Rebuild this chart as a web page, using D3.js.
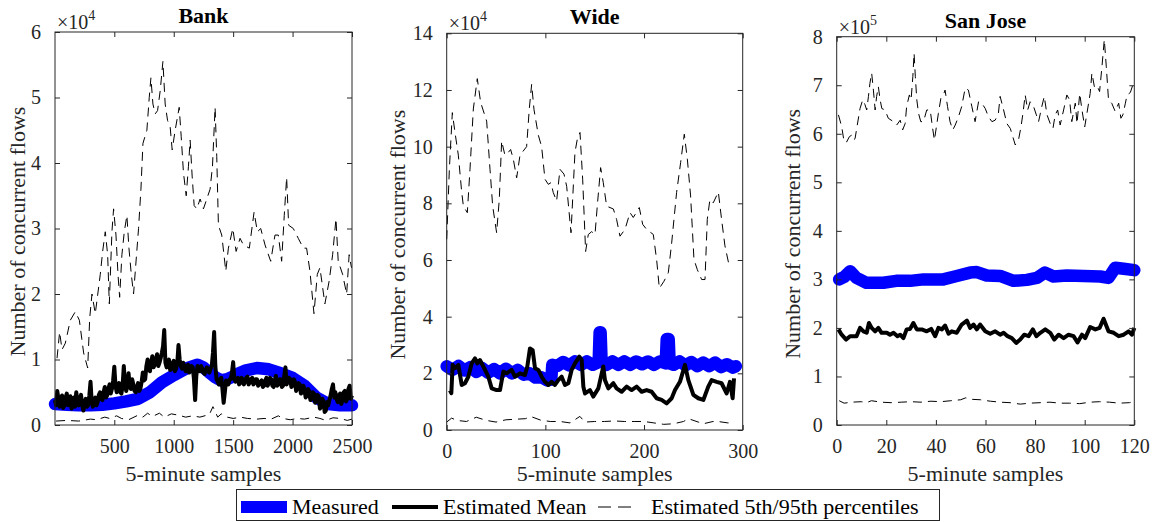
<!DOCTYPE html>
<html><head><meta charset="utf-8">
<script src="https://cdn.jsdelivr.net/npm/d3@7"></script>
<style>body{margin:0;background:#fff}svg{display:block}</style>
</head><body><svg id="c" width="1162" height="522" font-family="Liberation Serif, Times New Roman, serif"></svg>
<script>
// ---------------- DATA ----------------
const panelTitles = ["Bank", "Wide", "San Jose"];
const yAxisLabel = "Number of concurrent flows";
const xAxisLabel = "5-minute samples";
const legendLabels = ["Measured", "Estimated Mean", "Estimated 5th/95th percentiles"];
const exponents = [4, 4, 5];

const bankXTicks = [500, 1000, 1500, 2000, 2500];
const bankYTicks = [0, 1, 2, 3, 4, 5, 6];
const wideXTicks = [0, 100, 200, 300];
const wideYTicks = [0, 2, 4, 6, 8, 10, 12, 14];
const sjXTicks = [0, 20, 40, 60, 80, 100, 120];
const sjYTicks = [0, 1, 2, 3, 4, 5, 6, 7, 8];

// Bank (values in units of 1e4)
const bankMeasured = [[1,0.32],[100,0.31],[200,0.3],[300,0.3],[400,0.31],[500,0.33],[600,0.36],[700,0.4],[800,0.5],[900,0.65],[1000,0.76],[1100,0.86],[1200,0.92],[1250,0.88],[1300,0.8],[1350,0.73],[1400,0.68],[1450,0.7],[1500,0.74],[1550,0.79],[1600,0.83],[1700,0.87],[1800,0.85],[1900,0.79],[2000,0.72],[2100,0.6],[2200,0.42],[2300,0.32],[2400,0.3],[2500,0.3]];
const bankMeanStep = 10;
const bankMean = [
  0.38,0.3,0.52,0.4,0.28,0.36,0.45,0.26,0.3,0.42,0.48,0.3,0.35,0.44,0.25,0.32,0.42,0.28,0.5,0.36,
  0.3,0.4,0.46,0.3,0.22,0.34,0.4,0.28,0.3,0.45,0.66,0.35,0.28,0.38,0.42,0.3,0.35,0.46,0.5,0.4,
  0.38,0.5,0.58,0.42,0.45,0.55,0.62,0.48,0.55,0.68,0.89,0.6,0.5,0.58,0.64,0.5,0.48,0.6,0.9,0.62,
  0.52,0.6,0.79,0.58,0.55,0.7,0.62,0.52,0.5,0.58,0.64,0.52,0.56,0.66,0.8,0.68,0.7,0.9,1.0,0.86,
  0.82,0.95,1.05,0.88,0.92,1.0,1.08,0.9,0.95,1.02,1.1,1.2,1.45,0.95,0.88,0.96,1.0,0.84,0.85,0.94,
  0.98,0.82,0.86,0.95,1.22,1.0,0.9,0.86,0.95,0.88,0.82,0.9,0.92,0.8,0.85,0.9,0.88,0.7,0.38,0.75,
  0.9,0.86,0.82,0.9,0.86,0.8,0.78,0.85,0.88,0.82,0.8,0.86,0.9,1.1,1.42,0.9,0.7,0.66,0.62,0.7,
  0.72,0.55,0.34,0.5,0.68,0.62,0.62,0.7,0.7,0.8,0.96,0.7,0.66,0.7,0.72,0.62,0.64,0.72,0.7,0.62,
  0.66,0.72,0.74,0.62,0.65,0.7,0.72,0.62,0.64,0.7,0.7,0.6,0.62,0.66,0.68,0.58,0.6,0.68,0.72,0.6,
  0.64,0.72,0.7,0.6,0.58,0.68,0.75,0.6,0.62,0.7,0.7,0.58,0.6,0.75,0.88,0.62,0.66,0.72,0.7,0.58,
  0.6,0.7,0.66,0.52,0.56,0.64,0.62,0.48,0.5,0.6,0.55,0.42,0.45,0.55,0.52,0.38,0.4,0.5,0.48,0.34,
  0.36,0.46,0.44,0.25,0.28,0.4,0.36,0.2,0.22,0.35,0.3,0.38,0.45,0.55,0.62,0.42,0.5,0.4,0.35,0.45,
  0.48,0.32,0.38,0.5,0.52,0.36,0.4,0.55,0.6,0.4,0.45];
const bankP95 = [[18,1.02],[40,1.42],[60,1.15],[88,1.25],[130,1.6],[172,1.73],[206,1.6],[242,1.1],[276,0.87],[293,1.63],[312,2.0],[340,1.7],[382,2.3],[402,2.65],[424,2.95],[444,2.6],[458,1.85],[480,2.95],[494,3.3],[514,2.9],[531,2.3],[545,1.95],[564,2.6],[584,2.95],[606,3.2],[623,2.7],[643,2.3],[662,2.0],[685,2.55],[704,3.0],[724,3.6],[741,4.3],[774,4.5],[794,5.0],[808,5.3],[825,4.9],[844,4.75],[864,4.8],[886,5.1],[909,5.55],[928,4.9],[948,4.65],[970,4.55],[987,4.2],[1012,4.5],[1046,4.85],[1063,4.4],[1082,3.85],[1105,3.5],[1124,3.95],[1138,4.35],[1155,3.8],[1172,3.35],[1194,3.3],[1222,3.45],[1250,3.3],[1278,3.45],[1306,3.6],[1326,3.95],[1348,4.85],[1362,4.1],[1376,3.05],[1404,2.9],[1438,2.35],[1460,2.7],[1497,3.0],[1525,2.65],[1558,2.85],[1586,2.75],[1636,2.7],[1676,3.25],[1704,2.95],[1732,3.0],[1768,2.75],[1816,2.5],[1852,2.9],[1880,2.9],[1908,2.5],[1930,3.2],[1950,3.78],[1967,3.05],[2006,3.0],[2048,2.85],[2090,2.7],[2118,2.7],[2146,2.35],[2180,1.7],[2208,2.3],[2230,2.4],[2272,1.85],[2308,2.2],[2337,2.6],[2365,3.15],[2384,2.5],[2421,2.3],[2455,2.0],[2476,2.6],[2496,2.4]];
const bankP5 = [[10,0.06],[100,0.07],[200,0.06],[300,0.09],[350,0.08],[420,0.12],[460,0.1],[520,0.14],[560,0.1],[620,0.08],[700,0.15],[740,0.12],[780,0.18],[820,0.13],[880,0.18],[920,0.12],[980,0.17],[1040,0.15],[1100,0.12],[1160,0.14],[1220,0.12],[1300,0.16],[1330,0.28],[1370,0.12],[1400,0.17],[1450,0.12],[1500,0.1],[1560,0.12],[1620,0.1],[1700,0.09],[1760,0.1],[1820,0.09],[1880,0.14],[1920,0.1],[1980,0.08],[2040,0.1],[2100,0.09],[2180,0.12],[2230,0.1],[2280,0.07],[2340,0.11],[2400,0.1],[2460,0.07],[2500,0.09]];

// Wide (values in units of 1e4)
const wideMeasured = [[0,2.25],[6,2.12],[12,2.26],[18,2.1],[24,2.22],[30,2.05],[36,2.18],[42,2.02],[48,2.15],[54,2.0],[60,2.16],[66,2.0],[72,2.12],[78,1.95],[84,2.0],[90,1.85],[96,1.86],[102,1.75],[106,1.78],[107,2.3],[112,2.26],[118,2.4],[124,2.28],[130,2.42],[136,2.3],[142,2.42],[148,2.3],[154,2.4],[155,3.45],[156,3.45],[157,2.42],[162,2.3],[168,2.42],[174,2.3],[180,2.42],[186,2.3],[192,2.42],[198,2.32],[204,2.42],[210,2.3],[216,2.42],[222,2.35],[223,3.21],[225,3.21],[226,2.35],[230,2.3],[236,2.42],[242,2.28],[248,2.4],[254,2.25],[260,2.38],[266,2.25],[272,2.38],[278,2.22],[284,2.32],[290,2.2],[293,2.25]];
const wideMean = [[3.3,1.4],[4.7,1.3],[6,2.3],[8.4,2.18],[11.8,2.3],[15.2,1.59],[18.5,1.65],[21.9,1.88],[25.3,2.35],[28.7,2.53],[31,2.35],[33.7,2.47],[37.1,2.24],[42.2,1.88],[45.6,1.47],[50.6,1.41],[54,1.41],[57.4,2.06],[60.8,2.0],[65.8,2.12],[69.2,1.88],[74.3,2.0],[79.3,1.94],[81.7,2.24],[84.4,2.88],[87.1,2.82],[89.5,2.18],[92.9,2.12],[96.2,1.88],[99.6,1.7],[103,1.59],[106.4,1.7],[109.7,1.59],[113.1,1.76],[116.5,1.88],[119.9,1.59],[123.3,1.65],[126.6,2.12],[130,2.35],[134.4,2.59],[136.8,2.47],[138.5,1.53],[140.2,1.29],[145.2,1.41],[148.6,1.18],[153.7,1.47],[158.7,2.24],[160.4,1.76],[163.8,1.47],[168.9,1.65],[172.2,1.47],[177.3,1.35],[182.4,1.53],[187.4,1.41],[192.5,1.53],[197.6,1.35],[202.6,1.41],[207.7,1.35],[212.8,1.12],[217.8,1.06],[222.9,0.94],[228,1.12],[231.4,1.41],[236.4,1.7],[241.5,2.3],[244.9,1.76],[250,1.24],[255,1.12],[260.1,1.06],[265.1,1.53],[268.5,1.76],[273.6,1.7],[278.6,1.65],[283.7,1.29],[287.1,1.7],[289.8,1.12],[291.2,1.82]];
const wideP95 = [[0,6.73],[2.7,9.2],[5.7,11.2],[8.4,10.5],[11.8,9.7],[15.2,8.4],[16.9,7.9],[20.9,7.67],[23.6,9.2],[27,11.33],[31,12.4],[34.4,11.56],[40.5,10.9],[43.9,9.2],[46.6,7.9],[50.6,6.96],[53.3,8.14],[55.7,10.2],[59,9.7],[62.5,9.8],[64.8,9.9],[67.5,9.56],[70.9,8.9],[74.3,9.7],[81,10.0],[83.7,11.33],[86.1,12.2],[88.5,11.3],[92.9,10.4],[96.2,10.0],[99.6,8.85],[103,8.67],[105.7,8.73],[108,8.38],[111.4,8.08],[114.8,9.2],[118.9,9.03],[121.6,8.6],[126,6.96],[130,9.8],[132.4,10.27],[135.1,10.5],[137.8,8.85],[140.8,6.3],[143.5,6.9],[146.9,7.0],[150.3,6.9],[152.6,7.9],[156,9.26],[158.7,8.73],[162.1,7.9],[168.9,7.8],[172.2,7.43],[175.6,6.84],[180.7,7.08],[185.8,7.67],[189.1,7.5],[195.2,7.85],[198.6,7.26],[202.6,7.08],[209.4,6.9],[212.8,6.0],[215.5,5.0],[220.2,5.25],[224.6,5.55],[228,6.6],[233,8.38],[237.1,9.44],[240.8,10.44],[243.9,9.56],[247.2,8.26],[250.6,6.02],[254,5.66],[258.4,5.31],[261.8,5.31],[264.1,7.43],[266.8,8.14],[270.2,8.02],[275.3,8.4],[278.6,7.43],[282,6.5],[286.4,5.78]];
const wideP5 = [[0,0.28],[5,0.42],[10,0.34],[20,0.3],[30,0.45],[40,0.34],[50,0.28],[60,0.36],[70,0.38],[80,0.4],[85,0.48],[95,0.35],[105,0.3],[115,0.3],[125,0.25],[135,0.48],[140,0.28],[150,0.3],[160,0.3],[170,0.32],[180,0.3],[190,0.3],[200,0.3],[210,0.25],[220,0.2],[230,0.22],[240,0.3],[245,0.4],[255,0.28],[260,0.22],[270,0.3],[275,0.3],[285,0.25],[290,0.25]];

// San Jose (values in units of 1e5)
const sjMeasured = [[1,3.0],[3,3.05],[5.4,3.17],[8,3.03],[12,2.93],[18.8,2.93],[24,2.97],[29.6,2.97],[35,3.0],[43,3.0],[48.4,3.07],[53.8,3.14],[56.5,3.15],[60.5,3.08],[65.9,3.07],[71.3,2.97],[76.7,2.99],[80.7,3.03],[84,3.14],[87.4,3.06],[92.8,3.08],[99.6,3.07],[106.3,3.06],[109.6,3.03],[112.3,3.24],[115.7,3.22],[120,3.19]];
const sjMean = [[0.7,1.97],[2,1.86],[3.8,1.76],[5.4,1.83],[8,1.83],[9.4,2.0],[10.8,1.93],[12.1,1.9],[13,2.1],[14.1,2.0],[15.5,1.93],[16.8,2.0],[18.1,1.9],[20.2,1.9],[21.5,1.86],[22.9,1.9],[24.5,1.83],[25.6,1.86],[26.9,1.79],[28.2,1.97],[29.6,1.98],[30.9,2.1],[32.3,1.97],[34.3,1.97],[36.3,1.93],[38.1,1.98],[39.7,1.83],[41,2.0],[42.4,1.97],[43.7,2.05],[45.1,1.88],[46.4,1.93],[48.4,1.9],[50.4,2.07],[52.5,2.15],[53.8,2.0],[55.2,2.07],[56.5,1.97],[57.8,2.07],[59.9,1.93],[61.9,1.88],[63.9,1.93],[65.9,1.86],[67.3,1.9],[68.9,1.83],[70.6,1.79],[72.4,1.69],[74,1.76],[75.6,1.86],[77.4,1.83],[79.1,1.97],[80.5,1.83],[82.1,1.9],[84.1,1.97],[86.1,1.9],[87.7,1.76],[89.5,1.86],[91.5,1.79],[93.5,1.86],[95.5,1.83],[97.1,1.7],[98.9,1.86],[100.2,1.79],[102.2,2.02],[104.3,1.97],[106,2.0],[107.6,2.19],[109.6,1.93],[111.7,1.9],[113.7,1.83],[115.7,1.86],[117.7,1.93],[119.1,1.86],[120,2.0]];
const sjP95 = [[0.7,6.39],[2,6.15],[3,5.83],[4,5.83],[5.1,5.94],[6,5.97],[6.7,5.87],[7.4,5.9],[8.3,6.18],[9.4,6.52],[10.5,6.7],[11.4,6.6],[12.1,6.49],[12.8,6.77],[13.4,7.04],[14.1,7.25],[14.8,6.9],[15.5,6.49],[16.1,6.77],[16.8,6.97],[17.5,6.7],[18.2,6.52],[19.5,6.49],[20.8,6.32],[22.9,6.25],[24.2,6.18],[25.6,6.28],[26.6,6.08],[27.6,6.21],[28.2,6.56],[29.3,6.8],[30,6.7],[30.7,7.18],[31.2,7.66],[31.7,7.18],[32.3,6.7],[33,6.42],[33.9,6.25],[35,6.25],[36.3,6.49],[37.7,6.49],[38.6,6.14],[39.4,5.87],[40.4,6.21],[41,6.42],[42,6.73],[42.8,6.77],[43.7,6.9],[44.7,6.56],[45.7,6.25],[46.8,6.08],[47.8,6.18],[49.1,6.35],[50.4,6.56],[51.8,6.94],[53.1,6.9],[54.5,6.56],[55.8,6.25],[57.2,6.66],[58.5,6.63],[59.9,6.52],[61.2,6.35],[62.6,6.25],[63.9,6.28],[65.2,6.42],[65.9,6.77],[67.3,6.49],[68.6,6.21],[70,6.11],[71,5.94],[72,5.77],[73.3,5.87],[74.3,6.14],[75.1,6.42],[76,6.8],[77,6.49],[78,6.66],[79.4,6.56],[80.5,6.39],[81.4,6.25],[82.7,6.56],[83.7,6.77],[84.8,6.39],[86.1,6.21],[87.2,6.11],[88.1,6.39],[89.1,6.49],[90.1,6.18],[91.5,6.49],[92.8,6.8],[93.9,6.7],[94.8,6.25],[96.2,6.63],[96.9,6.21],[98,6.83],[98.9,6.49],[100,6.14],[100.9,6.42],[102.2,6.83],[102.9,7.25],[103.9,6.97],[104.9,7.0],[106,6.87],[106.9,7.35],[107.9,7.94],[108.7,7.39],[109.6,6.7],[110.9,6.63],[112.3,6.46],[113.7,6.63],[114.6,6.32],[115.4,6.39],[116.4,6.63],[117.1,6.8],[118.4,6.85],[120,7.1]];
const sjP5 = [[1,0.5],[3,0.45],[6,0.47],[10,0.48],[12,0.46],[14,0.5],[18,0.47],[22,0.46],[26,0.47],[30,0.48],[34,0.47],[38,0.49],[42,0.48],[46,0.5],[50,0.52],[52,0.56],[54,0.53],[58,0.52],[62,0.49],[66,0.47],[70,0.46],[74,0.43],[78,0.45],[82,0.46],[86,0.47],[90,0.45],[94,0.45],[98,0.44],[102,0.47],[106,0.48],[110,0.47],[114,0.45],[118,0.46],[120,0.48]];

// ---------------- DRAW ----------------
const BLUE = "#0000ff", AX = "#262626";
const FONT = "Liberation Serif, Times New Roman, serif";
const svg = d3.select("#c");
const txt = (sel, size, color) => sel.attr("font-family", FONT).attr("font-size", size).attr("fill", color || AX);

const bankMeanPts = bankMean.map((v, i) => [Math.max(1, i * bankMeanStep), v]);

const panels = [
  {title: panelTitles[0], exp: exponents[0], xDom: [1, 2500], yDom: [0, 6], xt: bankXTicks, yt: bankYTicks,
   box: {l: 55, r: 352, t: 32, b: 425}, meas: bankMeasured, mean: bankMeanPts, p95: bankP95, p5: bankP5, ylx: 25},
  {title: panelTitles[1], exp: exponents[1], xDom: [0, 300], yDom: [0, 14], xt: wideXTicks, yt: wideYTicks,
   box: {l: 446.7, r: 742.7, t: 33.3, b: 430}, meas: wideMeasured, mean: wideMean, p95: wideP95, p5: wideP5, ylx: 405},
  {title: panelTitles[2], exp: exponents[2], xDom: [0, 120], yDom: [0, 8], xt: sjXTicks, yt: sjYTicks,
   box: {l: 836.7, r: 1134.3, t: 36.7, b: 425}, meas: sjMeasured, mean: sjMean, p95: sjP95, p5: sjP5, ylx: 800}
];

panels.forEach(p => {
  const b = p.box;
  const x = d3.scaleLinear().domain(p.xDom).range([b.l, b.r]);
  const y = d3.scaleLinear().domain(p.yDom).range([b.b, b.t]);
  const g = svg.append("g");
  const line = d3.line().x(d => x(d[0])).y(d => y(d[1]));

  g.append("path").attr("d", line(p.meas)).attr("fill", "none").attr("stroke", BLUE)
    .attr("stroke-width", 12.5).attr("stroke-linecap", "round").attr("stroke-linejoin", "round");
  g.append("path").attr("d", line(p.mean)).attr("fill", "none").attr("stroke", "#000")
    .attr("stroke-width", 4).attr("stroke-linejoin", "round");
  [p.p95, p.p5].forEach(s => {
    g.append("path").attr("d", line(s)).attr("fill", "none").attr("stroke", "#000")
      .attr("stroke-width", 1).attr("stroke-dasharray", "9,6");
  });

  const tl = 5, fmt = d3.format("d");
  const axB = d3.axisBottom(x).tickValues(p.xt).tickSize(-tl).tickPadding(14).tickFormat(fmt);
  const axT = d3.axisTop(x).tickValues(p.xt).tickSize(-tl).tickFormat("");
  const axL = d3.axisLeft(y).tickValues(p.yt).tickSize(-tl).tickPadding(14).tickFormat(fmt);
  const axR = d3.axisRight(y).tickValues(p.yt).tickSize(-tl).tickFormat("");
  const style = sel => {
    sel.attr("font-family", null).attr("font-size", null);
    sel.selectAll("path,line").attr("stroke", AX).attr("stroke-width", 1);
    sel.select(".domain").remove();
    sel.selectAll("text").call(t => txt(t, 20));
  };
  const gb = g.append("g").attr("transform", `translate(0,${b.b})`).call(axB).call(style);
  gb.selectAll("text").attr("dy", "0.71em").attr("y", 14);
  g.append("g").attr("transform", `translate(0,${b.t})`).call(axT).call(style);
  g.append("g").attr("transform", `translate(${b.l},0)`).call(axL).call(style);
  g.append("g").attr("transform", `translate(${b.r},0)`).call(axR).call(style);
  g.append("rect").attr("x", b.l).attr("y", b.t).attr("width", b.r - b.l).attr("height", b.b - b.t)
    .attr("fill", "none").attr("stroke", AX).attr("stroke-width", 1);

  g.append("text").attr("x", (b.l + b.r) / 2).attr("y", b.t - 9).attr("text-anchor", "middle")
    .call(t => txt(t, 22, "#000")).attr("font-weight", "bold").text(p.title);
  const ex = g.append("text").attr("x", b.l + 2).attr("y", b.t - 3).call(t => txt(t, 20));
  ex.append("tspan").text("\u00d710");
  ex.append("tspan").attr("dy", -9).attr("font-size", 14).text(p.exp);
  g.append("text").attr("transform", `translate(${p.ylx},${(b.t + b.b) / 2 + 3}) rotate(-90)`)
    .attr("text-anchor", "middle").call(t => txt(t, 22)).text(yAxisLabel);
  g.append("text").attr("x", (b.l + b.r) / 2).attr("y", 481).attr("text-anchor", "middle")
    .call(t => txt(t, 22)).text(xAxisLabel);
});

// legend
const lg = svg.append("g");
lg.append("rect").attr("x", 236.5).attr("y", 489.5).attr("width", 703).attr("height", 31)
  .attr("fill", "#fff").attr("stroke", AX).attr("stroke-width", 1);
lg.append("rect").attr("x", 241).attr("y", 501).attr("width", 46).attr("height", 12).attr("fill", BLUE);
lg.append("line").attr("x1", 392).attr("x2", 438).attr("y1", 507).attr("y2", 507)
  .attr("stroke", "#000").attr("stroke-width", 4);
lg.append("line").attr("x1", 598).attr("x2", 631).attr("y1", 507).attr("y2", 507)
  .attr("stroke", "#000").attr("stroke-width", 1).attr("stroke-dasharray", "13,7");
[[292, legendLabels[0]], [443, legendLabels[1]], [651, legendLabels[2]]].forEach(([lx, t]) => {
  lg.append("text").attr("x", lx).attr("y", 514).call(s => txt(s, 22, "#000")).text(t);
});
</script>
</body></html>
